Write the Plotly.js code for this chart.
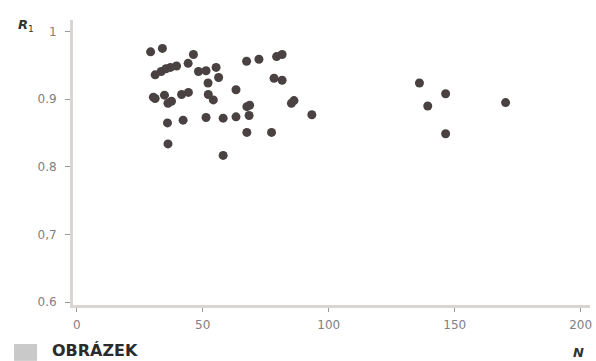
<!DOCTYPE html>
<html>
<head>
<meta charset="utf-8">
<script src="https://cdn.plot.ly/plotly-3.0.1.min.js"></script>
<style>
html,body{margin:0;padding:0;background:#fff;}
#chart{width:596px;height:361px;}
</style>
</head>
<body>
<div id="chart"></div>
<script>
// Sample size N
var nValues = [29.3, 34.0, 31.1, 33.5, 35.4, 37.2, 39.6, 44.2, 46.3, 48.3,
  51.3, 55.3, 56.3, 52.1, 30.4, 31.1, 34.8, 36.2, 37.6, 41.6,
  44.3, 52.2, 54.2, 36.0, 42.2, 51.3, 58.1, 63.2, 36.2, 58.1,
  63.2, 67.4, 72.3, 79.3, 81.5, 78.3, 81.5, 67.5, 68.6, 68.4,
  67.5, 77.3, 85.2, 86.2, 93.3, 136.0, 146.4, 139.3, 146.4, 170.2];
// Reliability R1
var rValues = [0.970, 0.975, 0.936, 0.941, 0.945, 0.947, 0.949, 0.953, 0.966, 0.941,
  0.942, 0.947, 0.932, 0.924, 0.903, 0.901, 0.906, 0.894, 0.897, 0.907,
  0.910, 0.907, 0.899, 0.865, 0.869, 0.873, 0.872, 0.874, 0.834, 0.817,
  0.914, 0.956, 0.959, 0.963, 0.966, 0.931, 0.928, 0.889, 0.891, 0.876,
  0.851, 0.851, 0.894, 0.898, 0.877, 0.924, 0.908, 0.890, 0.849, 0.895];
var xTickVals = [0, 50, 100, 150, 200];
var xTickText = ["0", "50", "100", "150", "200"];
var yTickVals = [0.6, 0.7, 0.8, 0.9, 1];
var yTickText = ["0.6", "0,7", "0.8", "0.9", "1"];

var trace = {
  x: nValues, y: rValues, type: 'scatter', mode: 'markers',
  marker: {size: 9, color: '#4a4242'},
  hoverinfo: 'none'
};

var tickFont = {family: 'DejaVu Sans, sans-serif', size: 12, color: '#808080'};

var layout = {
  width: 596, height: 361,
  margin: {l: 73, r: 6, t: 20, b: 56},
  paper_bgcolor: '#ffffff', plot_bgcolor: '#ffffff',
  showlegend: false,
  xaxis: {
    range: [-1.5, 203.7], showgrid: false, zeroline: false,
    showline: true, linecolor: '#d9d5d2', linewidth: 3,
    ticks: 'outside', ticklen: 4, tickwidth: 1, tickcolor: '#9a9a9a',
    tickvals: xTickVals, ticktext: xTickText, tickfont: tickFont,
    ticklabelstandoff: 3
  },
  yaxis: {
    range: [0.596, 1.017], showgrid: false, zeroline: false,
    showline: true, linecolor: '#d9d5d2', linewidth: 3,
    ticks: 'outside', ticklen: 5, tickwidth: 1, tickcolor: '#9a9a9a',
    tickvals: yTickVals, ticktext: yTickText, tickfont: tickFont,
    ticklabelstandoff: 6
  },
  shapes: [{
    type: 'rect', xref: 'paper', yref: 'paper',
    x0: -0.114, x1: -0.0696, y0: -0.196, y1: -0.137,
    fillcolor: '#c9c9c9', line: {width: 0}
  }],
  annotations: [
    {text: '<b><i>R</i></b><sub>1</sub>', xref: 'paper', yref: 'paper',
     x: -0.072, y: 0.98, xanchor: 'right', yanchor: 'middle', showarrow: false,
     font: {family: 'DejaVu Sans, sans-serif', size: 13, color: '#333'}},
    {text: '<b><i>N</i></b>', xref: 'paper', yref: 'paper',
     x: 0.978, y: -0.165, xanchor: 'center', yanchor: 'middle', showarrow: false,
     font: {family: 'DejaVu Sans, sans-serif', size: 13, color: '#333'}},
    {text: '<b>OBRÁZEK</b>', xref: 'paper', yref: 'paper',
     x: -0.0445, y: -0.158, xanchor: 'left', yanchor: 'middle', showarrow: false,
     font: {family: 'DejaVu Sans, sans-serif', size: 16, color: '#2b2b2b'}}
  ]
};

Plotly.newPlot('chart', [trace], layout, {displayModeBar: false, staticPlot: true});
</script>
</body>
</html>
